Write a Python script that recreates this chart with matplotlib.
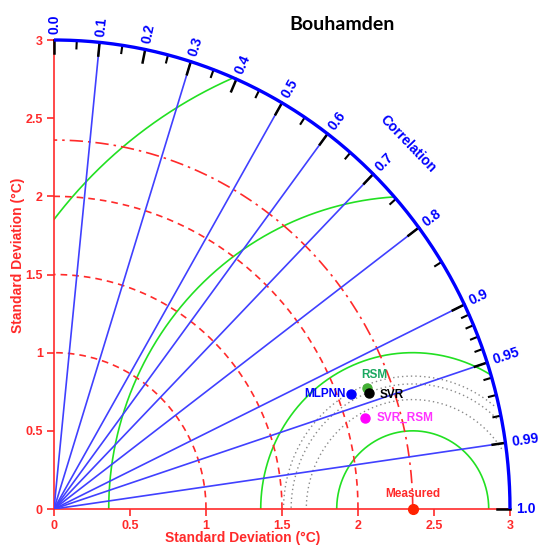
import numpy as np
import matplotlib
matplotlib.use("Agg")
import matplotlib.pyplot as plt

plt.rcParams['font.family'] = ['Liberation Sans', 'DejaVu Sans']

# Reference (measured) standard deviation and model statistics
ref_std = 2.36
models = ['MLPNN', 'RSM', 'SVR', 'SVR_RSM']
model_std = [2.09, 2.20, 2.20, 2.13]
model_corr = [0.936, 0.936, 0.941, 0.962]

# Grid definitions
std_ticks = [0, 0.5, 1, 1.5, 2, 2.5, 3]
std_tick_labels = ['0', '0.5', '1', '1.5', '2', '2.5', '3']
std_arcs = [1.0, 1.5, 2.0]
rms_arcs = [0.5, 1.0, 2.0, 3.0]
model_rms_arcs = [0.70, 0.80, 0.85]
corr_lines = [0.1, 0.3, 0.5, 0.6, 0.7, 0.8, 0.9, 0.95, 0.99]
corr_major = [0.0, 0.1, 0.2, 0.3, 0.4, 0.5, 0.6, 0.7, 0.8, 0.9, 0.95, 0.99, 1.0]
corr_labels = ['0.0', '0.1', '0.2', '0.3', '0.4', '0.5', '0.6', '0.7', '0.8',
               '0.9', '0.95', '0.99', '1.0']
corr_minor = [0.05, 0.15, 0.25, 0.35, 0.45, 0.55, 0.65, 0.75, 0.85,
              0.91, 0.92, 0.93, 0.94, 0.96, 0.97, 0.98]

RED = '#ff2a2a'
BLUE = '#0000ff'
LINE_BLUE = '#4040ff'
GREEN = '#22e022'
max_std = 3.0

model_colors = {'MLPNN': '#0000ff', 'RSM': '#44b035', 'SVR': '#000000', 'SVR_RSM': '#ff00ff'}
label_colors = {'MLPNN': '#0000ff', 'RSM': '#1aa860', 'SVR': '#000000', 'SVR_RSM': '#ff33ff'}
label_offsets = {'MLPNN': (-4, 0, 'right'), 'RSM': (5, 9, 'center'),
                 'SVR': (8, -2, 'left'), 'SVR_RSM': (8, 0, 'left')}

fig = plt.figure(figsize=(5.38, 5.51), dpi=100)
ax = fig.add_axes([54 / 538, 42 / 551, 456 / 538, 469 / 551])
ax.set_xlim(0, max_std)
ax.set_ylim(0, max_std)

for side in ['top', 'right']:
    ax.spines[side].set_visible(False)
for side in ['left', 'bottom']:
    ax.spines[side].set_color(RED)
    ax.spines[side].set_linewidth(1.2)

ax.set_xticks(std_ticks)
ax.set_xticklabels(std_tick_labels)
ax.set_yticks(std_ticks)
ax.set_yticklabels(std_tick_labels)
ax.tick_params(colors=RED, length=5, width=1.2, labelsize=9, pad=3)
for lbl in ax.get_xticklabels() + ax.get_yticklabels():
    lbl.set_fontweight('bold')


def clipped_circle(cx, radius, limit):
    t = np.linspace(0, np.pi, 3000)
    x = cx + radius * np.cos(t)
    y = radius * np.sin(t)
    keep = (x ** 2 + y ** 2 <= limit ** 2) & (x >= 0)
    x = np.where(keep, x, np.nan)
    y = np.where(keep, y, np.nan)
    return x, y


# RMS difference arcs around the reference point
for r in rms_arcs:
    x, y = clipped_circle(ref_std, r, max_std)
    ax.plot(x, y, color=GREEN, lw=1.2, zorder=2)

for r in model_rms_arcs:
    x, y = clipped_circle(ref_std, r, 2.97)
    ax.plot(x, y, color='#8a8a8a', lw=1.0, ls=(0, (1, 2.2)), zorder=2)

# Standard deviation arcs
q = np.linspace(0, np.pi / 2, 400)
for r in std_arcs:
    ax.plot(r * np.cos(q), r * np.sin(q), color=RED, lw=1.2,
            ls=(0, (4, 3)), zorder=3, clip_on=False)
ax.plot(ref_std * np.cos(q), ref_std * np.sin(q), color=RED, lw=1.2,
        ls=(0, (8, 3, 1.5, 3)), zorder=3, clip_on=False)

# Correlation rays
for c in corr_lines:
    th = np.arccos(c)
    ax.plot([0, max_std * np.cos(th)], [0, max_std * np.sin(th)],
            color=LINE_BLUE, lw=1.2, zorder=4)

# Outer correlation axis
ax.plot(max_std * np.cos(q), max_std * np.sin(q), color=BLUE, lw=2.4,
        zorder=6, clip_on=False, solid_capstyle='butt')

for c in corr_major:
    th = np.arccos(c)
    r0 = max_std - 0.085
    ax.plot([r0 * np.cos(th), max_std * np.cos(th)],
            [r0 * np.sin(th), max_std * np.sin(th)],
            color='black', lw=1.8, zorder=5, clip_on=False)
for c in corr_minor:
    th = np.arccos(c)
    r0 = max_std - 0.05
    ax.plot([r0 * np.cos(th), max_std * np.cos(th)],
            [r0 * np.sin(th), max_std * np.sin(th)],
            color='black', lw=1.5, zorder=5, clip_on=False)

for c, txt in zip(corr_major, corr_labels):
    th = np.arccos(c)
    r_lab = max_std + 0.04
    ax.text(r_lab * np.cos(th), r_lab * np.sin(th), txt, color=BLUE,
            fontsize=10, fontweight='bold', rotation=np.degrees(th),
            rotation_mode='anchor', ha='left', va='center', clip_on=False)

# Measured reference point
ax.plot(ref_std, 0, 'o', color='#ff2200', ms=7, zorder=8, clip_on=False)
ax.annotate('Measured', (ref_std, 0), xytext=(0, 11), textcoords='offset points',
            color=RED, fontsize=8.5, fontweight='bold', ha='center', va='center')

# Model points
for name, s, c in zip(models, model_std, model_corr):
    th = np.arccos(c)
    x, y = s * np.cos(th), s * np.sin(th)
    ax.plot(x, y, 'o', color=model_colors[name], ms=6.5, zorder=9)
    dx, dy, ha = label_offsets[name]
    ax.annotate(name, (x, y), xytext=(dx, dy), textcoords='offset points',
                color=label_colors[name], fontsize=8.5, fontweight='bold',
                ha=ha, va='center', zorder=10)

fig.text(18 / 538, 1 - 255 / 551, 'Standard Deviation (°C)', color=RED,
         fontsize=10, fontweight='bold', rotation=90, ha='center', va='center')
fig.text(243 / 538, 1 - 538 / 551, 'Standard Deviation (°C)', color=RED,
         fontsize=10, fontweight='bold', ha='center', va='center')
fig.text(408 / 538, 1 - 144 / 551, 'Correlation', color=BLUE, fontsize=10,
         fontweight='bold', rotation=-46, ha='center', va='center')
fig.text(342 / 538, 1 - 24 / 551, 'Bouhamden', color='black', fontsize=14,
         fontweight='bold', family=['Lato', 'DejaVu Sans'], ha='center', va='center')

plt.savefig('out.png', dpi=100)
